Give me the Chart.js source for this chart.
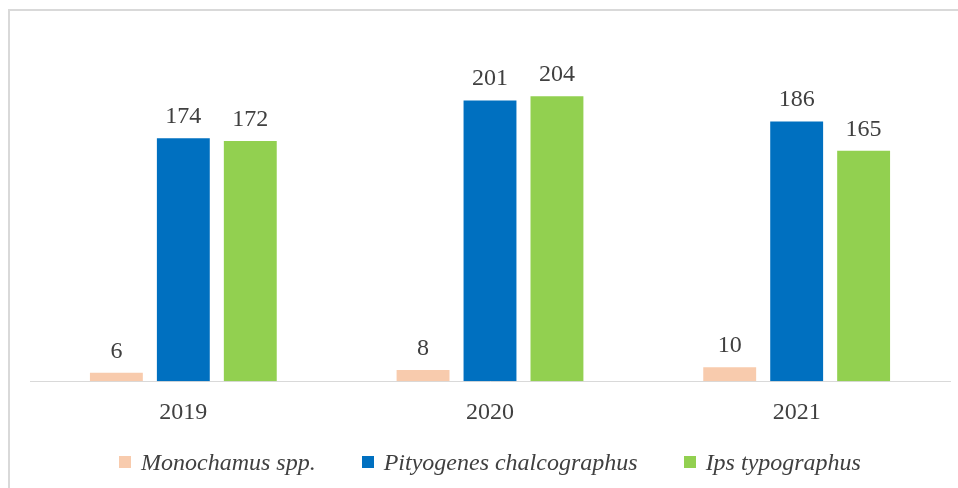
<!DOCTYPE html>
<html>
<head>
<meta charset="utf-8">
<script src="https://cdn.jsdelivr.net/npm/chart.js@4"></script>
<style>
  html, body { margin: 0; padding: 0; background: #fff; }
  #wrap { position: relative; width: 958px; height: 488px; overflow: hidden; }
  #frame { position: absolute; left: 8px; top: 9px; width: 1000px; height: 600px;
           border-left: 2px solid #d9d9d9; border-top: 2px solid #d9d9d9; }
  canvas { position: absolute; left: 0; top: 0; }
  #legenda { position: absolute; left: 30px; width: 920px; top: 447px; height: 30px;
             display: flex; justify-content: center; align-items: center; gap: 46px;
             font: italic 24px 'Liberation Serif', 'Times New Roman', serif; color: #404040; }
  #legenda .item { display: flex; align-items: center; }
  #legenda .marca { width: 12px; height: 12px; margin-right: 10px; }
</style>
</head>
<body>
<div id="wrap">
  <div id="frame"></div>
  <canvas id="grafico" width="958" height="488"></canvas>
  <div id="legenda"></div>
</div>
<script>
// DADOS
const anos = ["2019", "2020", "2021"];
const especies = ["Monochamus spp.", "Pityogenes chalcographus", "Ips typographus"];
const monochamus = [6, 8, 10];
const pityogenes = [174, 201, 186];
const ips = [172, 204, 165];
const cores = ["#f8cbad", "#0070c0", "#92d050"];

const fonteSerif = "'Liberation Serif', 'Times New Roman', serif";

// rótulos de valor acima das barras
const rotulosValor = {
  id: "rotulosValor",
  afterDatasetsDraw(chart) {
    const ctx = chart.ctx;
    ctx.save();
    ctx.font = "24px " + fonteSerif;
    ctx.fillStyle = "#404040";
    ctx.textAlign = "center";
    ctx.textBaseline = "alphabetic";
    chart.data.datasets.forEach((ds, i) => {
      chart.getDatasetMeta(i).data.forEach((bar, j) => {
        ctx.fillText(ds.data[j], bar.x, bar.y - 15);
      });
    });
    ctx.restore();
  }
};

const chart = new Chart(document.getElementById("grafico").getContext("2d"), {
  type: "bar",
  data: {
    labels: anos,
    datasets: [
      { label: especies[0], data: monochamus, backgroundColor: cores[0] },
      { label: especies[1], data: pityogenes, backgroundColor: cores[1] },
      { label: especies[2], data: ips, backgroundColor: cores[2] }
    ]
  },
  options: {
    responsive: false,
    animation: false,
    datasets: { bar: { categoryPercentage: 0.655, barPercentage: 0.79 } },
    layout: { padding: { left: 30, right: 8, top: 46, bottom: 44 } },
    scales: {
      x: {
        grid: { display: false, drawTicks: false },
        border: { display: true, color: "#d9d9d9", width: 1 },
        ticks: { color: "#404040", font: { family: fonteSerif, size: 24 }, padding: 17 }
      },
      y: { display: false, min: 0, max: 240 }
    },
    plugins: {
      legend: { display: false },
      tooltip: { enabled: false }
    }
  },
  plugins: [rotulosValor]
});

// LEGENDA
const legendaEl = document.getElementById("legenda");
chart.data.datasets.forEach(ds => {
  const item = document.createElement("div");
  item.className = "item";
  item.innerHTML = `<span class="marca" style="background:${ds.backgroundColor}"></span><span>${ds.label}</span>`;
  legendaEl.appendChild(item);
});
</script>
</body>
</html>
